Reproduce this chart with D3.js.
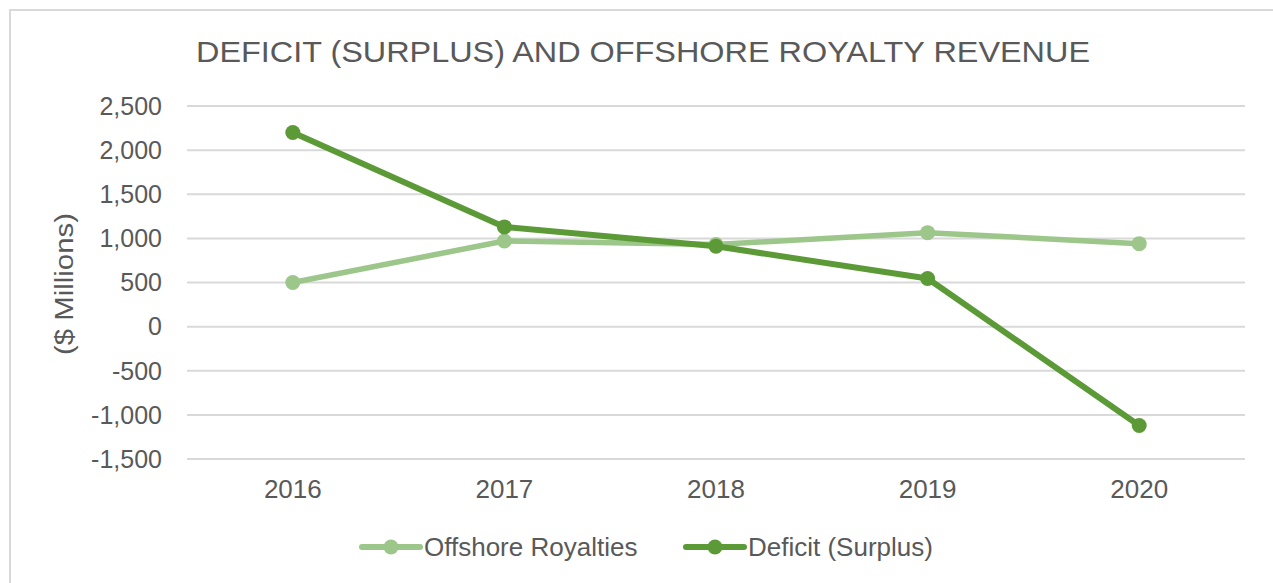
<!DOCTYPE html>
<html>
<head>
<meta charset="utf-8">
<script src="https://cdn.jsdelivr.net/npm/d3@7"></script>
<style>
  body { margin: 0; background: #fff; }
  text { font-family: "Liberation Sans", Arial, sans-serif; fill: #595959; }
</style>
</head>
<body>
<svg id="chart" width="1273" height="583"></svg>
<script>
var years = ['2016', '2017', '2018', '2019', '2020'];
var offshoreRoyalties = [500, 970, 930, 1065, 940];
var deficitSurplus = [2200, 1130, 910, 545, -1120];
var yTicks = [2500, 2000, 1500, 1000, 500, 0, -500, -1000, -1500];

var series = [
  {name: 'Offshore Royalties', values: offshoreRoyalties, color: '#9cc68a'},
  {name: 'Deficit (Surplus)', values: deficitSurplus, color: '#5c9a38'}
];

var margin = {top: 106, right: 28, bottom: 124, left: 187},
    width = 1273, height = 583,
    innerW = width - margin.left - margin.right;

var svg = d3.select('#chart');

// chart frame
svg.append('rect')
  .attr('x', 10).attr('y', 10)
  .attr('width', 1280).attr('height', 600)
  .attr('fill', 'none').attr('stroke', '#d9d9d9').attr('stroke-width', 2);

svg.append('text')
  .attr('x', 196).attr('y', 62)
  .attr('textLength', 894)
  .attr('lengthAdjust', 'spacingAndGlyphs')
  .style('font-size', '29px')
  .text('DEFICIT (SURPLUS) AND OFFSHORE ROYALTY REVENUE');

var g = svg.append('g').attr('transform', 'translate(' + margin.left + ',' + margin.top + ')');

var x = d3.scaleBand().domain(years).range([0, innerW]);
var y = d3.scaleLinear().domain([-1500, 2500]).range([353, 0]);

// grid
g.append('g')
  .selectAll('line').data(yTicks).join('line')
  .attr('x1', 0).attr('x2', innerW)
  .attr('y1', function(d) { return y(d); })
  .attr('y2', function(d) { return y(d); })
  .attr('stroke', '#d9d9d9').attr('stroke-width', 2);

var fmt = function(d) { return d3.format(',')(d).replace('\u2212', '-'); };
g.append('g')
  .selectAll('text').data(yTicks).join('text')
  .attr('x', -25)
  .attr('y', function(d) { return y(d); })
  .attr('dy', '0.35em')
  .attr('text-anchor', 'end')
  .style('font-size', '25px')
  .text(fmt);

g.append('g')
  .selectAll('text').data(years).join('text')
  .attr('x', function(d) { return x(d) + x.bandwidth() / 2; })
  .attr('y', 392)
  .attr('text-anchor', 'middle')
  .style('font-size', '26px')
  .text(function(d) { return d; });

svg.append('text')
  .attr('transform', 'translate(64,284) rotate(-90)')
  .attr('x', -71).attr('dy', '0.35em')
  .attr('textLength', 142)
  .attr('lengthAdjust', 'spacingAndGlyphs')
  .style('font-size', '26px')
  .text('($ Millions)');

var line = d3.line()
  .x(function(d, i) { return x(years[i]) + x.bandwidth() / 2; })
  .y(function(d) { return y(d); });

series.forEach(function(s) {
  g.append('path')
    .attr('d', line(s.values))
    .attr('fill', 'none')
    .attr('stroke', s.color)
    .attr('stroke-width', s.name === 'Deficit (Surplus)' ? 6 : 5.5)
    .attr('stroke-linejoin', 'round');
  g.append('g')
    .selectAll('circle').data(s.values).join('circle')
    .attr('cx', function(d, i) { return x(years[i]) + x.bandwidth() / 2; })
    .attr('cy', function(d) { return y(d); })
    .attr('r', 7.5)
    .attr('fill', s.color);
});

// legend
var legendX = [360, 684];
series.forEach(function(s, i) {
  var lg = svg.append('g').attr('transform', 'translate(' + legendX[i] + ',547)');
  lg.append('line').attr('x1', 2).attr('x2', 60).attr('y1', 0).attr('y2', 0)
    .attr('stroke', s.color).attr('stroke-width', 6).attr('stroke-linecap', 'round');
  lg.append('circle').attr('cx', 31).attr('cy', 0).attr('r', 7.5).attr('fill', s.color);
  lg.append('text').attr('x', 64).attr('y', 0).attr('dy', '0.35em')
    .style('font-size', '26px').text(s.name);
});
</script>
</body>
</html>
